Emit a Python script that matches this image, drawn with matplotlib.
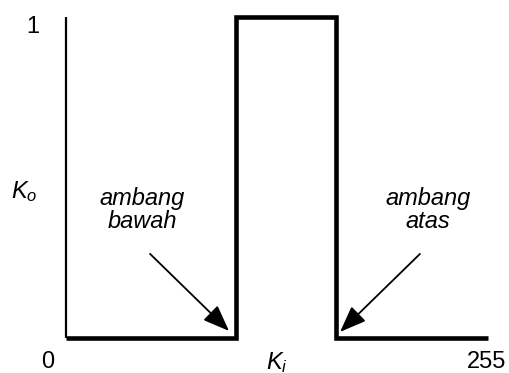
import matplotlib
matplotlib.use("Agg")
import matplotlib.pyplot as plt

# nilai ambang (skala 0..255) dan fungsi keluaran
ambang_bawah = 103
ambang_atas = 163
k_i = [0, ambang_bawah, ambang_bawah, ambang_atas, ambang_atas, 255]
k_o = [0, 0, 1, 1, 0, 0]

plt.rcParams['font.family'] = ['Liberation Sans', 'DejaVu Sans']
plt.rcParams['mathtext.fontset'] = 'custom'
plt.rcParams['mathtext.it'] = 'Liberation Sans:italic'
plt.rcParams['mathtext.rm'] = 'Liberation Sans'

W, H = 509, 373
fig = plt.figure(figsize=(W / 100, H / 100), dpi=100)
ax = fig.add_axes([66 / W, (H - 338) / H, (488 - 66) / W, (338 - 17) / H])
ax.set_xlim(0, 255)
ax.set_ylim(0, 1)
ax.axis('off')

# sumbu tegak (tipis)
ax.plot([0, 0], [0, 1], color='black', lw=1.6, clip_on=False, solid_capstyle='butt')
# fungsi ambang (tebal)
ax.plot(k_i, k_o, color='black', lw=3.3, clip_on=False,
        solid_joinstyle='miter', solid_capstyle='butt')

fs = 17
ax.text(-20, 0.969, '1', fontsize=fs, ha='center', va='center')
ax.text(-11, -0.075, '0', fontsize=fs, ha='center', va='center')
ax.text(254, -0.075, '255', fontsize=fs, ha='center', va='center')
ax.text(127.5, -0.075, r'$K_i$', fontsize=fs, ha='center', va='center')
ax.text(-25, 0.455, r'$K_o$', fontsize=fs, ha='center', va='center')

arrow = dict(arrowstyle='-|>,head_length=0.9,head_width=0.35', color='black',
             lw=1.3, mutation_scale=18, shrinkA=0, shrinkB=0)
ax.text(46, 0.400, 'ambang\nbawah', fontsize=fs, style='italic',
        ha='center', va='center', linespacing=1.0)
ax.annotate('', xy=(98.5, 0.022), xytext=(50.8, 0.262), arrowprops=arrow,
            annotation_clip=False)
ax.text(218.7, 0.400, 'ambang\natas', fontsize=fs, style='italic',
        ha='center', va='center', linespacing=1.0)
ax.annotate('', xy=(165.6, 0.019), xytext=(213.9, 0.262), arrowprops=arrow,
            annotation_clip=False)

fig.savefig('out.png', dpi=100)
